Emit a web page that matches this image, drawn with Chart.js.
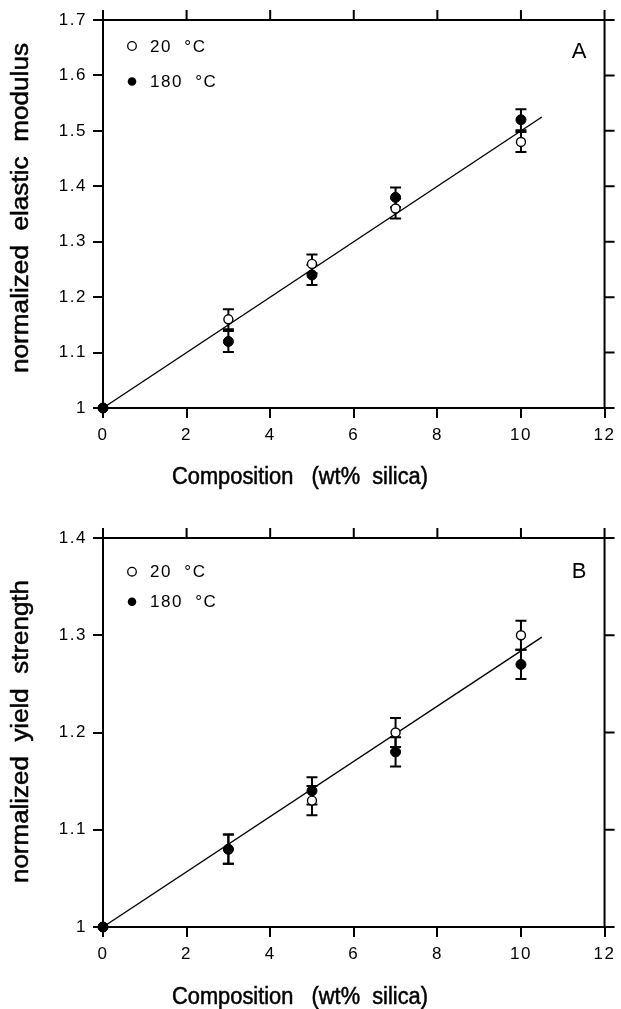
<!DOCTYPE html>
<html>
<head>
<meta charset="utf-8">
<script src="https://cdn.jsdelivr.net/npm/chart.js@4.4.1/dist/chart.umd.min.js"></script>
<style>
  html, body { margin: 0; padding: 0; background: #fff; }
  #wrap { position: relative; width: 621px; height: 1009px; }
  canvas { position: absolute; left: 0; }
</style>
</head>
<body>
<div id="wrap">
  <canvas id="chartA" width="621" height="505" style="top:0"></canvas>
  <canvas id="chartB" width="621" height="504" style="top:505px"></canvas>
</div>
<script>
// composition, wt% silica
const composition = [0, 3, 5, 7, 10];
const xTicks = [0, 2, 4, 6, 8, 10, 12];

// panel A: normalized elastic modulus
const modulus20 = [1.00, 1.16, 1.26, 1.36, 1.48];
const modulus20Err = [0, 0.018, 0.017, 0.018, 0.018];
const modulus180 = [1.00, 1.12, 1.24, 1.38, 1.52];
const modulus180Err = [0, 0.019, 0.018, 0.018, 0.019];
const modulusFitX = [0, 10.5];
const modulusFitY = [1.0, 1.525];
const modulusTicks = [1, 1.1, 1.2, 1.3, 1.4, 1.5, 1.6, 1.7];

// panel B: normalized yield strength
const yield20 = [1.00, 1.08, 1.13, 1.20, 1.30];
const yield20Err = [0, 0.015, 0.015, 0.015, 0.015];
const yield180 = [1.00, 1.08, 1.14, 1.18, 1.27];
const yield180Err = [0, 0.015, 0.014, 0.015, 0.015];
const yieldFitX = [0, 10.5];
const yieldFitY = [1.0, 1.298];
const yieldTicks = [1, 1.1, 1.2, 1.3, 1.4];

const legendLabels = ['20  \u00B0C', '180  \u00B0C'];
const xTitle = 'Composition   (wt%  silica)';

const FONT = '"Liberation Sans", Arial, Helvetica, sans-serif';

function pts(xs, ys) {
  return xs.map((x, i) => ({ x, y: ys[i] }));
}

// draw text squeezed/stretched to a given width
function fitText(ctx, text, cx, cy, width, font, angle) {
  ctx.save();
  ctx.font = font;
  ctx.letterSpacing = '0px';
  const w = ctx.measureText(text).width;
  ctx.translate(cx, cy);
  ctx.rotate(angle);
  ctx.scale(width / w, 1);
  ctx.textAlign = 'center';
  ctx.textBaseline = 'middle';
  ctx.fillStyle = '#000';
  ctx.strokeStyle = '#000';
  ctx.lineWidth = 0.5;
  ctx.fillText(text, 0, 0);
  ctx.strokeText(text, 0, 0);
  ctx.restore();
}

// the original lettering is a little wider than Liberation Sans
const spacing = {
  id: 'spacing',
  beforeDraw(chart) { chart.ctx.letterSpacing = '1.5px'; }
};

const errorBars = {
  id: 'errorBars',
  beforeDatasetsDraw(chart) {
    const { ctx, scales: { x, y } } = chart;
    ctx.save();
    ctx.strokeStyle = '#000';
    ctx.lineWidth = 2;
    chart.data.datasets.forEach(ds => {
      if (!ds.errors) return;
      ds.data.forEach((p, i) => {
        const e = ds.errors[i];
        if (!e) return;
        const px = x.getPixelForValue(p.x);
        const top = y.getPixelForValue(p.y + e);
        const bot = y.getPixelForValue(p.y - e);
        ctx.beginPath();
        ctx.moveTo(px, top); ctx.lineTo(px, bot);
        ctx.moveTo(px - 5.5, top); ctx.lineTo(px + 5.5, top);
        ctx.moveTo(px - 5.5, bot); ctx.lineTo(px + 5.5, bot);
        ctx.stroke();
      });
    });
    ctx.restore();
  }
};

// top and right axes with outward ticks
const frame = {
  id: 'frame',
  afterDraw(chart) {
    const { ctx, chartArea: a, scales: { x, y } } = chart;
    ctx.save();
    ctx.strokeStyle = '#000';
    ctx.lineWidth = 2;
    ctx.beginPath();
    ctx.moveTo(a.left - 1, a.top); ctx.lineTo(a.right, a.top); ctx.lineTo(a.right, a.bottom + 1);
    x.ticks.forEach(t => {
      const px = x.getPixelForValue(t.value);
      ctx.moveTo(px, a.top); ctx.lineTo(px, a.top - 10);
    });
    y.ticks.forEach(t => {
      const py = y.getPixelForValue(t.value);
      ctx.moveTo(a.right, py); ctx.lineTo(a.right + 10, py);
    });
    ctx.stroke();
    ctx.restore();
  }
};

// titles, legend and panel letter
const decor = {
  id: 'decor',
  afterDraw(chart, args, o) {
    const { ctx } = chart;
    fitText(ctx, o.yTitle, 22, o.yTitleY, o.yTitleW, '23px ' + FONT, -Math.PI / 2);
    fitText(ctx, xTitle, 300, o.xTitleY, 256, '23px ' + FONT, 0);

    ctx.save();
    ctx.letterSpacing = '1.5px';
    ctx.fillStyle = '#000';
    ctx.strokeStyle = '#000';
    ctx.font = '17px ' + FONT;
    ctx.textBaseline = 'middle';
    ctx.textAlign = 'left';
    o.legendY.forEach((ly, i) => {
      ctx.beginPath();
      ctx.arc(132, ly, 4.3, 0, Math.PI * 2);
      if (i === 0) {
        ctx.fillStyle = '#fff'; ctx.fill();
        ctx.lineWidth = 1.3; ctx.stroke();
      } else {
        ctx.fillStyle = '#000'; ctx.fill();
      }
      ctx.fillStyle = '#000';
      ctx.fillText(legendLabels[i], 150, ly + 1);
    });
    ctx.letterSpacing = '0px';
    ctx.font = '22px ' + FONT;
    ctx.textAlign = 'center';
    ctx.fillText(o.letter, 579, o.letterY);
    ctx.restore();
  }
};

function makeChart(id, cfg) {
  return new Chart(document.getElementById(id), {
    type: 'scatter',
    data: {
      datasets: [
        { data: pts(cfg.fitX, cfg.fitY), showLine: true, borderColor: '#000', borderWidth: 1.4,
          pointRadius: 0, clip: false, order: 3 },
        { data: pts(composition, cfg.s20), errors: cfg.e20, pointRadius: 4.5, pointBackgroundColor: '#fff',
          pointBorderColor: '#000', pointBorderWidth: 1.4, clip: false, order: 2 },
        { data: pts(composition, cfg.s180), errors: cfg.e180, pointRadius: 5, pointBackgroundColor: '#000',
          pointBorderColor: '#000', pointBorderWidth: 1, clip: false, order: 1 }
      ]
    },
    options: {
      responsive: false,
      animation: false,
      devicePixelRatio: 1,
      layout: { padding: { top: cfg.padTop, right: 11, left: 0, bottom: 0 } },
      plugins: {
        legend: { display: false },
        tooltip: { enabled: false },
        decor: cfg.decor
      },
      scales: {
        x: {
          type: 'linear', min: 0, max: 12,
          afterBuildTicks: s => { s.ticks = xTicks.map(v => ({ value: v })); },
          afterFit: s => { s.height = cfg.xHeight; },
          grid: { drawOnChartArea: false, drawTicks: true, tickLength: 10, tickWidth: 2, lineWidth: 2, tickColor: '#000', color: '#000' },
          border: { display: true, color: '#000', width: 2 },
          ticks: { color: '#000', font: { family: FONT, size: 17 }, padding: 7, autoSkip: false, maxRotation: 0 }
        },
        y: {
          type: 'linear', min: cfg.yTicks[0], max: cfg.yTicks[cfg.yTicks.length - 1],
          afterBuildTicks: s => { s.ticks = cfg.yTicks.map(v => ({ value: v })); },
          afterFit: s => { s.width = 103; },
          grid: { drawOnChartArea: false, drawTicks: true, tickLength: 10, tickWidth: 2, lineWidth: 2, tickColor: '#000', color: '#000' },
          border: { display: true, color: '#000', width: 2 },
          ticks: { color: '#000', font: { family: FONT, size: 17 }, padding: 6, autoSkip: false,
                   callback: v => String(+v.toFixed(1)) }
        }
      }
    },
    plugins: [spacing, errorBars, frame, decor]
  });
}

makeChart('chartA', {
  s20: modulus20, e20: modulus20Err, s180: modulus180, e180: modulus180Err,
  fitX: modulusFitX, fitY: modulusFitY, yTicks: modulusTicks,
  padTop: 20, xHeight: 97,
  decor: { yTitle: 'normalized  elastic  modulus', yTitleY: 208, yTitleW: 330, xTitleY: 478,
           legendY: [46, 81.5], letter: 'A', letterY: 52 }
});

makeChart('chartB', {
  s20: yield20, e20: yield20Err, s180: yield180, e180: yield180Err,
  fitX: yieldFitX, fitY: yieldFitY, yTicks: yieldTicks,
  padTop: 33, xHeight: 82,
  decor: { yTitle: 'normalized  yield  strength', yTitleY: 226.5, yTitleW: 303, xTitleY: 493,
           legendY: [66.7, 96.7], letter: 'B', letterY: 67 }
});
</script>
</body>
</html>
